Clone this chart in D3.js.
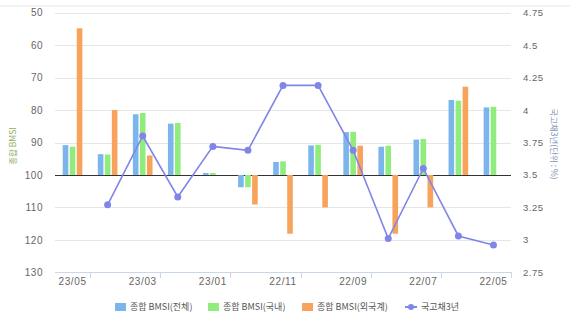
<!DOCTYPE html>
<html><head><meta charset="utf-8">
<script src="https://cdn.jsdelivr.net/npm/d3@7"></script>
<style>
body{margin:0;background:#fff;}
svg{display:block;font-family:"Liberation Sans",Arial,sans-serif;}
</style></head>
<body><svg id="c" width="579" height="324"></svg>
<script>
const categories = ["23/05","23/04","23/03","23/02","23/01","22/12","22/11","22/10","22/09","22/08","22/07","22/06","22/05"];
const bmsiTotal    = [90.8, 93.6, 81.3, 84.2, 99.4, 103.8, 96.0, 90.9, 86.8, 91.3, 89.1, 76.9, 79.2];
const bmsiDomestic = [91.3, 93.7, 80.9, 84.0, 99.4, 103.8, 95.8, 90.7, 86.7, 91.0, 88.9, 77.1, 79.0];
const bmsiForeign  = [54.8, 80.0, 94.0, null, null, 109.1, 118.1, 110.0, 91.0, 118.1, 110.0, 72.8, null];
const bond3y       = [null, 3.27, 3.80, 3.33, 3.72, 3.69, 4.19, 4.19, 3.69, 3.01, 3.55, 3.03, 2.96];
const leftTicks  = [50, 60, 70, 80, 90, 100, 110, 120, 130];
const rightTicks = [2.75, 3, 3.25, 3.5, 3.75, 4, 4.25, 4.5, 4.75];
const xLabelCats = ["23/05","23/03","23/01","22/11","22/09","22/07","22/05"];
const seriesNames = ["종합 BMSI(전체)", "종합 BMSI(국내)", "종합 BMSI(외국계)", "국고채3년"];
const colors = ["#7cb5ec", "#90ed7d", "#f7a35c", "#8085e9"];

const svg = d3.select("#c");
const L = 55, R = 511, T = 12.7, B = 272.3;

// frame line at top
svg.append("line").attr("x1",0).attr("x2",570).attr("y1",6).attr("y2",6)
  .attr("stroke","#e6e6e6").attr("stroke-width",1);

const x0 = d3.scaleBand().domain(categories).range([L, R]).padding(0);
const bw = x0.bandwidth();
const x1 = d3.scaleBand().domain([0,1,2]).range([bw*0.2, bw*0.8]).paddingInner(0.2).paddingOuter(0.1);
const y = d3.scaleLinear().domain([50,130]).range([T,B]);
const yR = d3.scaleLinear().domain([4.75,2.75]).range([T,B]);

// gridlines
svg.append("g").selectAll("line").data(leftTicks.filter(t=>t!==100 && t!==130)).join("line")
  .attr("x1",L).attr("x2",R).attr("y1",d=>Math.round(y(d))+0.5).attr("y2",d=>Math.round(y(d))+0.5)
  .attr("stroke","#e6e6e6").attr("stroke-width",1);

// bottom axis line and ticks
svg.append("line").attr("x1",L).attr("x2",R).attr("y1",Math.round(B)+0.5).attr("y2",Math.round(B)+0.5)
  .attr("stroke","#ccd6eb");
const tickPos = categories.filter((c,i)=>i%2===0).map(c=>x0(c)+bw);
svg.append("g").selectAll("line").data(tickPos).join("line")
  .attr("x1",d=>Math.round(d)+0.5).attr("x2",d=>Math.round(d)+0.5)
  .attr("y1",Math.round(B)).attr("y2",Math.round(B)+6).attr("stroke","#ccd6eb");

// x labels
const xAxis = d3.axisBottom(x0).tickValues(xLabelCats).tickSize(0).tickPadding(6);
const gx = svg.append("g").attr("transform",`translate(0,${B})`).call(xAxis);
gx.select(".domain").remove();
gx.selectAll("text").attr("fill","#666").attr("font-size","10px").attr("letter-spacing","0.6px")
  .attr("font-family","'Liberation Sans',Arial,sans-serif");

// left axis
const yAxis = d3.axisLeft(y).tickValues(leftTicks).tickSize(0).tickPadding(12).tickFormat(d3.format("d"));
const gy = svg.append("g").attr("transform",`translate(${L},0)`).call(yAxis);
gy.select(".domain").remove();
gy.selectAll("text").attr("fill","#666").attr("font-size","10px").attr("letter-spacing","0.5px")
  .attr("font-family","'Liberation Sans',Arial,sans-serif");

// right axis
const yRAxis = d3.axisRight(yR).tickValues(rightTicks).tickSize(0).tickPadding(12).tickFormat(d=>String(d));
const gyr = svg.append("g").attr("transform",`translate(${R},0)`).call(yRAxis);
gyr.select(".domain").remove();
gyr.selectAll("text").attr("fill","#666").attr("font-size","9.5px").attr("letter-spacing","0.5px")
  .attr("font-family","'Liberation Sans',Arial,sans-serif");

// axis titles
svg.append("text").attr("transform",`translate(16,146) rotate(-90)`).attr("text-anchor","middle")
  .attr("font-size","8.5px").attr("fill","#8fae62").attr("font-family","'Noto Sans CJK KR',sans-serif")
  .text("종합 BMSI");
svg.append("text").attr("transform",`translate(551,144) rotate(90)`).attr("text-anchor","middle")
  .attr("font-size","8.5px").attr("fill","#8799b8").attr("font-family","'Noto Sans CJK KR',sans-serif")
  .text("국고채3년(단위 : %)");

// baseline at 100
svg.append("line").attr("x1",L).attr("x2",R).attr("y1",Math.round(y(100))+0.5).attr("y2",Math.round(y(100))+0.5)
  .attr("stroke","#333").attr("stroke-width",1);

// bars
const barSeries = [bmsiTotal, bmsiDomestic, bmsiForeign];
barSeries.forEach((vals, si) => {
  svg.append("g").selectAll("rect")
    .data(categories.map((c,i)=>({c, v: vals[i]})).filter(d=>d.v!=null))
    .join("rect")
    .attr("x", d=>x0(d.c)+x1(si))
    .attr("width", x1.bandwidth())
    .attr("y", d=>Math.min(y(d.v), y(100)))
    .attr("height", d=>Math.abs(y(d.v)-y(100)))
    .attr("fill", colors[si]);
});

// line
const pts = categories.map((c,i)=>({c, v: bond3y[i]}));
const line = d3.line().defined(d=>d.v!=null).x(d=>x0(d.c)+bw/2).y(d=>yR(d.v));
svg.append("path").datum(pts).attr("d", line).attr("fill","none")
  .attr("stroke", colors[3]).attr("stroke-width", 1.6);
svg.append("g").selectAll("circle").data(pts.filter(d=>d.v!=null)).join("circle")
  .attr("cx", d=>x0(d.c)+bw/2).attr("cy", d=>yR(d.v)).attr("r", 3.5).attr("fill", colors[3]);

// legend
const legX = [115, 208, 302, 405];
const legY = 307;
const lg = svg.append("g");
seriesNames.forEach((name, i) => {
  const g = lg.append("g").attr("transform", `translate(${legX[i]},${legY})`);
  if (i < 3) {
    g.append("rect").attr("x",0).attr("y",-4).attr("width",11).attr("height",8).attr("fill",colors[i]);
  } else {
    g.append("line").attr("x1",0).attr("x2",12).attr("y1",0).attr("y2",0).attr("stroke",colors[3]).attr("stroke-width",2);
    g.append("circle").attr("cx",6).attr("cy",0).attr("r",3).attr("fill",colors[3]);
  }
  g.append("text").attr("x", i<3 ? 15 : 16).attr("y", 0).attr("dy","0.35em")
    .attr("font-size","9px").attr("fill","#555").attr("font-family","'Noto Sans CJK KR',sans-serif")
    .text(name);
});
</script></body></html>
